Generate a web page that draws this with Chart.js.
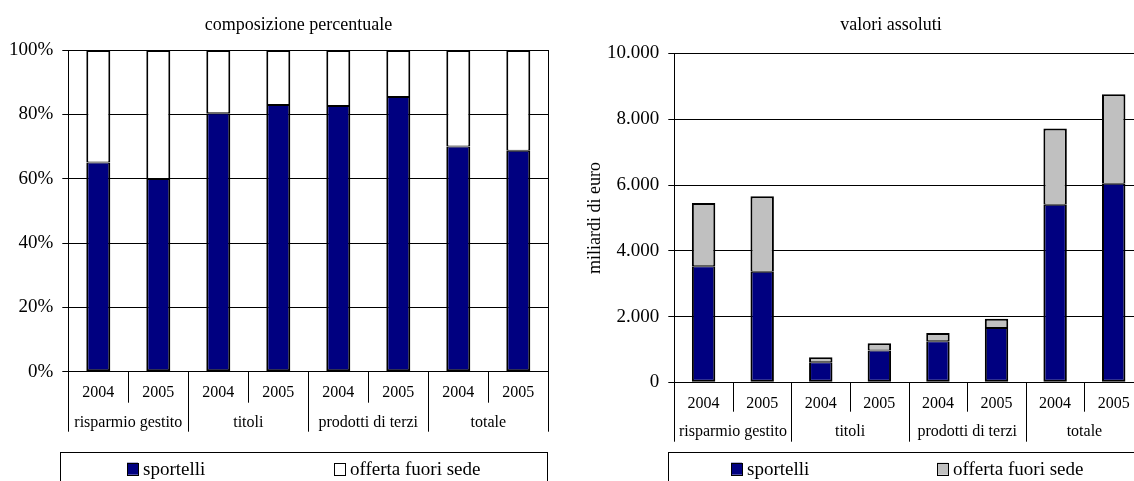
<!DOCTYPE html>
<html lang="it">
<head>
<meta charset="utf-8">
<title>sportelli e offerta fuori sede</title>
<script src="https://cdn.jsdelivr.net/npm/chart.js@4.4.1/dist/chart.umd.min.js"></script>
<style>
  html, body { margin: 0; padding: 0; background: #fff; overflow: hidden; }
  #wrap { position: relative; width: 1134px; height: 481px; overflow: hidden; }
  #pct-box { position: absolute; left: 0; top: 0; width: 570px; height: 481px; }
  #abs-box { position: absolute; left: 570px; top: 0; width: 600px; height: 481px; }
  canvas { display: block; }
</style>
</head>
<body>
<div id="wrap">
  <div id="pct-box"><canvas id="pct-chart" width="570" height="481"></canvas></div>
  <div id="abs-box"><canvas id="abs-chart" width="600" height="481"></canvas></div>
</div>
<script>
'use strict';

const years = ['2004', '2005', '2004', '2005', '2004', '2005', '2004', '2005'];
const groups = ['risparmio gestito', 'titoli', 'prodotti di terzi', 'totale'];
const seriesNames = ['sportelli', 'offerta fuori sede'];

// composizione percentuale
const sportelliPct = [65.0, 59.9, 80.3, 82.9, 82.6, 85.4, 70.0, 68.7];
const fuoriSedePct = [35.0, 40.1, 19.7, 17.1, 17.4, 14.6, 30.0, 31.3];
const pctTicks = ['0%', '20%', '40%', '60%', '80%', '100%'];

// valori assoluti, miliardi di euro
const sportelliAbs = [3530, 3360, 610, 965, 1250, 1650, 5400, 6040];
const fuoriSedeAbs = [1925, 2297, 153, 226, 246, 284, 2317, 2718];
const absTicks = ['0', '2.000', '4.000', '6.000', '8.000', '10.000'];

const serif = "'Liberation Serif', 'Times New Roman', serif";
const navy = '#000080';

Chart.defaults.font.family = serif;
Chart.defaults.color = '#000';

function crisp(v) {
  return Math.round(v) + 0.5;
}

function line(ctx, x1, y1, x2, y2) {
  ctx.beginPath();
  ctx.moveTo(x1, y1);
  ctx.lineTo(x2, y2);
  ctx.stroke();
}

// title on top, two level category axis (year / group) and the framed legend
const excelFrame = {
  id: 'excelFrame',
  afterDraw(chart, args, opts) {
    const ctx = chart.ctx;
    const area = chart.chartArea;
    const xs = chart.scales.x;
    const step = xs.width / years.length;

    ctx.save();
    ctx.strokeStyle = '#000';
    ctx.fillStyle = '#000';
    ctx.lineWidth = 1;

    ctx.font = '18px ' + serif;
    ctx.textAlign = 'center';
    ctx.textBaseline = 'alphabetic';
    ctx.fillText(opts.title, opts.titleX, opts.titleY);

    if (opts.rightBorder) {
      line(ctx, crisp(area.right), area.top, crisp(area.right), area.bottom);
    }

    // dividers: short ones between years, long ones between groups
    for (let i = 0; i <= years.length; i++) {
      const px = crisp(xs.left + i * step);
      const len = i % 2 === 0 ? opts.groupTick : opts.yearTick;
      line(ctx, px, area.bottom, px, area.bottom + len);
    }

    ctx.font = '16px ' + serif;
    for (let i = 0; i < years.length; i++) {
      ctx.fillText(years[i], xs.getPixelForValue(i), area.bottom + opts.yearBase);
    }
    for (let g = 0; g < groups.length; g++) {
      const cx = xs.left + (g * 2 + 1) * step;
      ctx.fillText(groups[g], cx, area.bottom + opts.groupBase);
    }

    // legend frame, open at the bottom of the picture
    ctx.strokeRect(crisp(opts.legendX), crisp(opts.legendY), opts.legendW, 60);
    ctx.font = '19px ' + serif;
    ctx.textAlign = 'left';
    chart.data.datasets.forEach((ds, i) => {
      const mx = opts.legendItems[i];
      ctx.fillStyle = ds.backgroundColor;
      ctx.fillRect(mx, opts.legendY + 11, 11, 12);
      ctx.strokeRect(crisp(mx), crisp(opts.legendY + 11), 11, 12);
      ctx.fillStyle = '#000';
      ctx.fillText(ds.label, mx + 16, opts.legendY + 23);
    });

    ctx.restore();
  }
};

// outer edges 2px, the seam between the two pieces stays 2px in total
function makeDatasets(first, second, secondColor) {
  return [{
    label: seriesNames[0],
    data: first,
    backgroundColor: navy,
    borderColor: '#000',
    borderWidth: { top: 1, left: 2, right: 2, bottom: 2 },
    borderSkipped: false,
    barPercentage: 0.4,
    categoryPercentage: 1
  }, {
    label: seriesNames[1],
    data: second,
    backgroundColor: secondColor,
    borderColor: '#000',
    borderWidth: { top: 2, left: 2, right: 2, bottom: 1 },
    borderSkipped: false,
    barPercentage: 0.4,
    categoryPercentage: 1
  }];
}

function xAxis(height) {
  return {
    stacked: true,
    grid: { display: false },
    border: { color: '#000', width: 1 },
    ticks: { display: false },
    afterFit: (scale) => { scale.height = height; }
  };
}

// left: share of each channel
new Chart(document.getElementById('pct-chart'), {
  type: 'bar',
  data: {
    labels: years,
    datasets: makeDatasets(sportelliPct, fuoriSedePct, '#ffffff')
  },
  options: {
    responsive: false,
    animation: false,
    layout: { padding: { top: 50, right: 21.7, bottom: 0, left: 0 } },
    scales: {
      x: xAxis(109.3),
      y: {
        stacked: true,
        min: 0,
        max: 100,
        ticks: {
          stepSize: 20,
          padding: 9,
          font: { size: 19 },
          callback: (value, index) => pctTicks[index]
        },
        grid: { color: '#000', lineWidth: 1, tickLength: 6 },
        border: { color: '#000', width: 1 },
        afterFit: (scale) => { scale.width = 68.3; }
      }
    },
    plugins: {
      legend: { display: false },
      tooltip: { enabled: false },
      excelFrame: {
        title: 'composizione percentuale',
        titleX: 298.5,
        titleY: 30,
        rightBorder: true,
        yearTick: 31,
        groupTick: 60,
        yearBase: 25,
        groupBase: 55,
        legendX: 60,
        legendY: 451.7,
        legendW: 487,
        legendItems: [127, 334]
      }
    }
  },
  plugins: [excelFrame]
});

// right: amounts in billions of euro
new Chart(document.getElementById('abs-chart'), {
  type: 'bar',
  data: {
    labels: years,
    datasets: makeDatasets(sportelliAbs, fuoriSedeAbs, '#c0c0c0')
  },
  options: {
    responsive: false,
    animation: false,
    layout: { padding: { top: 53.5, right: 27, bottom: 0, left: 10 } },
    scales: {
      x: xAxis(98.7),
      y: {
        stacked: true,
        min: 0,
        max: 10000,
        ticks: {
          stepSize: 2000,
          padding: 9,
          font: { size: 19 },
          callback: (value, index) => absTicks[index]
        },
        title: {
          display: true,
          text: 'miliardi di euro',
          font: { size: 18 }
        },
        grid: { color: '#000', lineWidth: 1, tickLength: 6 },
        border: { color: '#000', width: 1 },
        afterFit: (scale) => { scale.width = 94.3; }
      }
    },
    plugins: {
      legend: { display: false },
      tooltip: { enabled: false },
      excelFrame: {
        title: 'valori assoluti',
        titleX: 321,
        titleY: 30,
        rightBorder: false,
        yearTick: 29.4,
        groupTick: 59.4,
        yearBase: 25.4,
        groupBase: 53.7,
        legendX: 97.7,
        legendY: 451.7,
        legendW: 560,
        legendItems: [161, 367]
      }
    }
  },
  plugins: [excelFrame]
});
</script>
</body>
</html>
